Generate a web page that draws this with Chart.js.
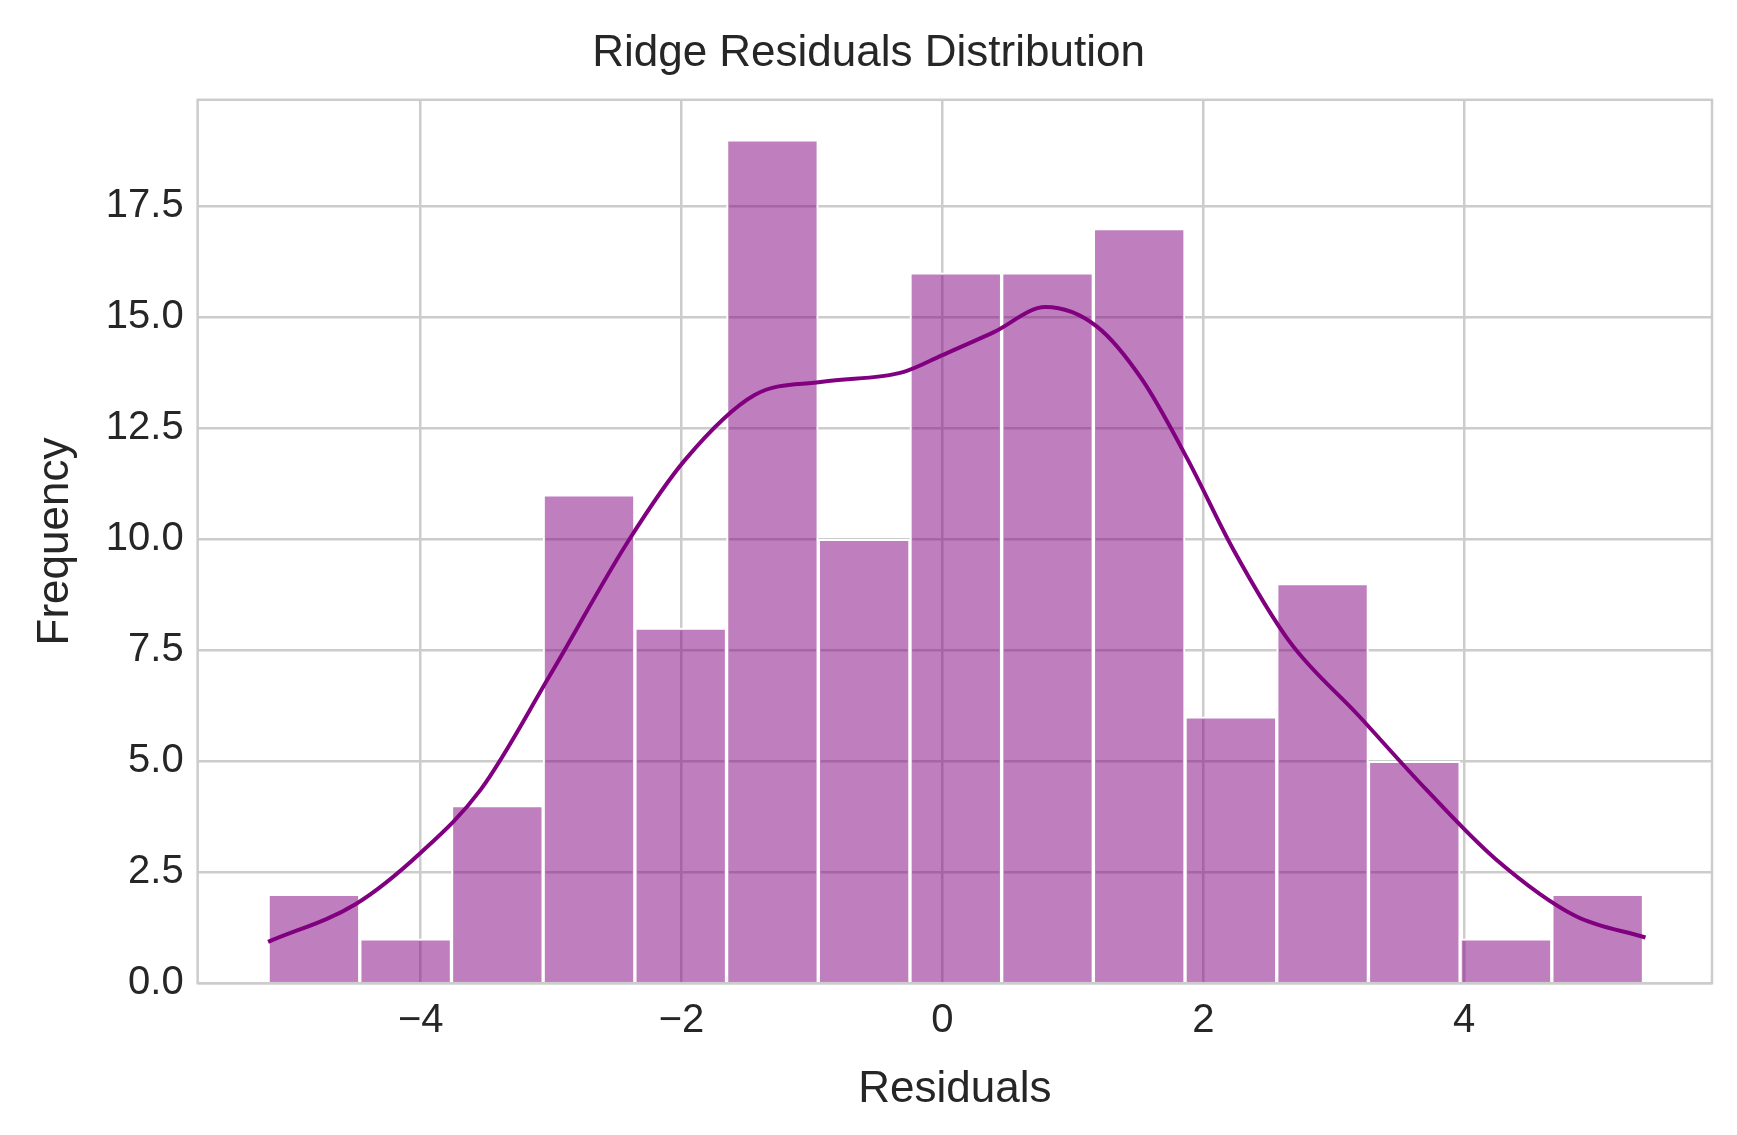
<!DOCTYPE html>
<html><head><meta charset="utf-8">
<script src="https://cdn.jsdelivr.net/npm/chart.js@4"></script>
<style>html,body{margin:0;padding:0;background:#fff}#w{width:1737px;height:1135px}</style>
</head><body><div id="w"><canvas id="c"></canvas></div>
<script>
const binStart = -5.17;
const binWidth = 0.703;
const counts = [2,1,4,11,8,19,10,16,16,17,6,9,5,1,2];
const kdeX = [-5.17,-4.5,-4,-3.54,-3.01,-2.4,-1.97,-1.44,-0.92,-0.31,0,0.39,0.79,1.18,1.53,1.88,2.23,2.66,3.19,3.71,4.24,4.85,5.39];
const kdeY = [0.93,1.78,2.94,4.36,6.93,10.0,11.8,13.25,13.55,13.76,14.15,14.66,15.23,14.8,13.6,11.8,9.77,7.7,6.03,4.36,2.8,1.52,1.03];
const xTicks = [-4,-2,0,2,4];
const yTicks = [0,2.5,5,7.5,10,12.5,15,17.5];

const bars = counts.map((c,i)=>({x: binStart + binWidth*(i+0.5), y: c}));
const kde = kdeX.map((x,i)=>({x, y: kdeY[i]}));
const font = {family:'Arial, "Liberation Sans", sans-serif'};
const frame = {id:'frame', afterDraw(ch){const a=ch.chartArea,g=ch.ctx;g.save();g.strokeStyle='#cccccc';g.lineWidth=2.5;g.strokeRect(a.left,a.top,a.right-a.left,a.bottom-a.top);g.restore();}};
new Chart(document.getElementById('c'),{
  data:{datasets:[
    {type:'line',data:kde,borderColor:'#800080',borderWidth:4,pointRadius:0,cubicInterpolationMode:'monotone',fill:false,order:0},
    {type:'bar',data:bars,backgroundColor:'rgba(128,0,128,0.5)',borderColor:'#ffffff',borderWidth:2,barPercentage:1,categoryPercentage:1,grouped:false,order:1}
  ]},
  options:{responsive:true,maintainAspectRatio:false,animation:false,devicePixelRatio:1,
    layout:{padding:{left:25,right:25,top:5,bottom:15}},
    plugins:{legend:{display:false},tooltip:{enabled:false},
      title:{display:true,text:'Ridge Residuals Distribution',color:'#262626',font:{...font,size:44,weight:'normal'},padding:{top:22,bottom:20}}},
    scales:{
      x:{type:'linear',min:-5.71,max:5.9,offset:false,
        afterBuildTicks(s){s.ticks=xTicks.map(v=>({value:v}));},
        ticks:{color:'#262626',font:{...font,size:40},padding:14,callback:v=>String(v).replace('-','\u2212')},
        grid:{color:'#cccccc',lineWidth:2.5,drawTicks:false,offset:false},border:{display:false},
        title:{display:true,text:'Residuals',color:'#262626',font:{...font,size:44},padding:{top:4}}},
      y:{type:'linear',min:0,max:19.9,
        afterBuildTicks(s){s.ticks=yTicks.map(v=>({value:v}));},
        ticks:{color:'#262626',font:{...font,size:40},padding:14,callback:v=>Number(v).toFixed(1)},
        grid:{color:'#cccccc',lineWidth:2.5,drawTicks:false},border:{display:false},
        title:{display:true,text:'Frequency',color:'#262626',font:{...font,size:44},padding:{bottom:10}}}
    }},
  plugins:[frame]
});
</script></body></html>
